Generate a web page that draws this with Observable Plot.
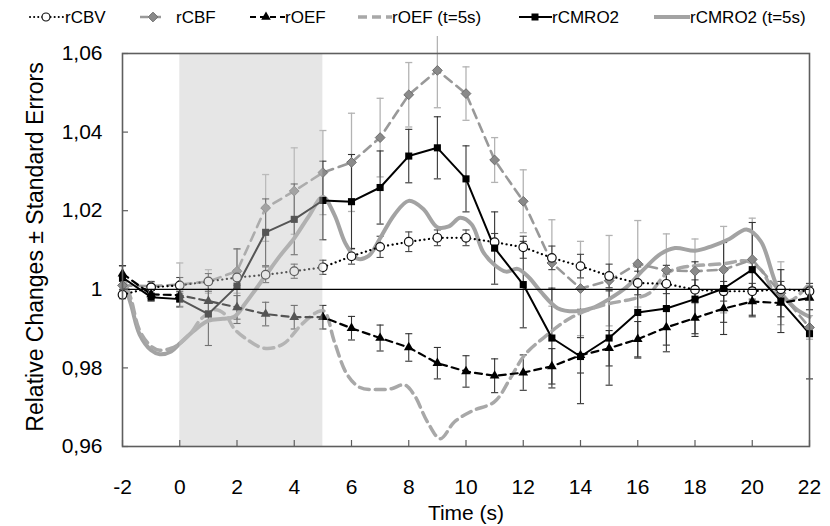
<!DOCTYPE html>
<html><head><meta charset="utf-8">
<script src="https://cdn.jsdelivr.net/npm/d3@7"></script>
<script src="https://cdn.jsdelivr.net/npm/@observablehq/plot@0.6"></script>
<style>
body{margin:0;background:#fff;font-family:"Liberation Sans",Arial,Helvetica,sans-serif;}
#legend{height:36px;}
#legend svg, #chart svg{display:block;}
</style></head><body>
<div id="legend"></div>
<div id="chart"></div>
<script>
// ---------- data ----------
const times = [-2,-1,0,1,2,3,4,5,6,7,8,9,10,11,12,13,14,15,16,17,18,19,20,21,22];
const xTicks = [-2,0,2,4,6,8,10,12,14,16,18,20,22];
const yTicks = [0.96,0.98,1,1.02,1.04,1.06];
const stimulus = [0, 5];

const rCBV    = [0.9986,1.0005,1.001,1.002,1.003,1.0037,1.0046,1.0056,1.0084,1.0108,1.0121,1.0131,1.0131,1.012,1.0107,1.008,1.0059,1.0034,1.0016,1.0014,0.9999,0.9995,0.9995,1.0,0.9995];
const rCBV_se = [0.001,0.0015,0.002,0.002,0.002,0.002,0.0018,0.0018,0.002,0.0027,0.0025,0.002,0.002,0.0022,0.0028,0.003,0.003,0.003,0.003,0.0025,0.0025,0.0025,0.002,0.002,0.002];

const rCBF    = [1.001,1.0008,1.0012,1.002,1.0046,1.0207,1.025,1.0297,1.0323,1.0386,1.0495,1.0557,1.0498,1.0329,1.0224,1.0067,1.0002,1.0022,1.0065,1.0048,1.0046,1.005,1.0076,0.999,0.9903];
const rCBF_se = [0.002,0.001,0.0055,0.003,0.0056,0.0085,0.011,0.0107,0.0125,0.010,0.0082,0.0095,0.0068,0.0057,0.008,0.011,0.012,0.0115,0.011,0.0093,0.0082,0.011,0.0105,0.008,0.003];

const rOEF    = [1.004,0.9987,0.9985,0.997,0.9954,0.9937,0.9929,0.9929,0.9901,0.9876,0.9852,0.9812,0.9791,0.978,0.9788,0.9804,0.9832,0.985,0.9873,0.9903,0.9927,0.9951,0.9969,0.9965,0.9978];
const rOEF_se = [0.002,0.001,0.0015,0.0025,0.003,0.003,0.003,0.003,0.003,0.0033,0.0035,0.004,0.004,0.0043,0.0045,0.0045,0.0045,0.0045,0.0045,0.0045,0.004,0.0035,0.0035,0.0035,0.003];

const rCMRO2    = [1.003,0.998,0.9975,0.9937,1.0008,1.0145,1.0178,1.0226,1.0223,1.0259,1.0339,1.036,1.0281,1.0105,1.0012,0.9876,0.9829,0.9876,0.9941,0.9951,0.9975,1.0002,1.005,0.997,0.9887];
const rCMRO2_se = [0.003,0.001,0.002,0.008,0.0095,0.0085,0.009,0.01,0.012,0.0093,0.0068,0.0079,0.0084,0.0092,0.011,0.0127,0.012,0.012,0.0116,0.011,0.0095,0.0117,0.012,0.008,0.0115];

const oef5Times  = [-2,-1.7,-1.4,-1.0,-0.7,-0.3,0,0.4,0.75,1.25,1.6,1.9,2.3,2.95,3.6,4.25,4.8,5.05,5.4,5.85,6.3,6.9,7.4,7.85,8.2,8.65,9.1,9.6,10.2,11.0,11.55,12.05,12.7,13.65,14.8,15.8,16.4,17.0,17.5,18.0,19.0,19.8,20.3,20.8,21.3,22];
const rOEF5      = [1.004,0.9975,0.9895,0.9855,0.9845,0.985,0.9862,0.989,0.9925,0.9948,0.9935,0.990,0.9875,0.985,0.986,0.991,0.9942,0.9944,0.9867,0.9783,0.975,0.9745,0.9747,0.9757,0.973,0.9663,0.962,0.9663,0.969,0.9714,0.9774,0.9833,0.9876,0.9927,0.996,0.9975,0.999,1.004,1.0055,1.006,1.0065,1.0072,1.005,0.999,0.997,1.0015];

const cmro5Times = [-2,-1.7,-1.4,-1.0,-0.7,-0.3,0,0.5,1.0,1.5,1.9,2.3,3.0,3.5,4.0,4.5,5.0,5.4,5.8,6.2,6.6,7.0,7.5,8.0,8.5,9.0,9.4,9.8,10.2,10.6,11.0,11.4,11.8,12.2,12.6,13.2,13.8,14.4,15.0,15.6,16.2,16.8,17.3,18.0,18.6,19.2,19.8,20.3,20.9,21.5,22];
const rCMRO25    = [1.003,0.996,0.9885,0.9845,0.9835,0.9842,0.9862,0.9895,0.992,0.9925,0.993,0.9965,1.0035,1.0085,1.013,1.0185,1.0235,1.019,1.0115,1.0078,1.0085,1.013,1.019,1.0225,1.0205,1.0158,1.016,1.0182,1.0165,1.0095,1.0062,1.0045,1.0052,1.003,0.9995,0.9952,0.9944,0.9952,0.9975,1.0005,1.005,1.009,1.0105,1.0098,1.011,1.0128,1.0152,1.0122,1.0003,0.9952,0.993];

const seriesLabels = ["rCBV","rCBF","rOEF","rOEF (t=5s)","rCMRO2","rCMRO2 (t=5s)"];
const yLabel = "Relative Changes ± Standard Errors";
const xLabel = "Time (s)";

// ---------- tables ----------
const pts = (vals, se) => times.map((t,i) => ({t, v: vals[i], lo: vals[i]-se[i], hi: vals[i]+se[i]}));
const dCBV = pts(rCBV, rCBV_se), dCBF = pts(rCBF, rCBF_se), dOEF = pts(rOEF, rOEF_se), dCMRO = pts(rCMRO2, rCMRO2_se);
const dOEF5 = oef5Times.map((t,i) => ({t, v: rOEF5[i]}));
const dCMRO5 = cmro5Times.map((t,i) => ({t, v: rCMRO25[i]}));

const capSym = {draw(ctx, size){ const w = Math.sqrt(size)/2; ctx.moveTo(-w,0); ctx.lineTo(w,0); }};
const errMarks = (d, color, sw) => [
  Plot.ruleX(d, {x: "t", y1: "lo", y2: "hi", stroke: color, strokeWidth: sw}),
  Plot.dot(d, {x: "t", y: "lo", symbol: capSym, r: 4, stroke: color, strokeWidth: sw, fill: "none"}),
  Plot.dot(d, {x: "t", y: "hi", symbol: capSym, r: 4, stroke: color, strokeWidth: sw, fill: "none"})
];

const FONT = "Liberation Sans, Arial, Helvetica, sans-serif";
const fmt = d => d === 1 ? "1" : d.toFixed(2).replace(".", ",");

const chart = Plot.plot({
  width: 830, height: 490,
  marginLeft: 122, marginRight: 21, marginTop: 17, marginBottom: 80,
  style: {fontFamily: FONT, fontSize: "21px", background: "white", color: "black"},
  x: {domain: [-2, 22], axis: null},
  y: {domain: [0.96, 1.06], axis: null},
  marks: [
    ...errMarks(dCBF, "#b3b3b3", 1.3),
    ...errMarks(dCBV, "#444", 1.1),
    ...errMarks(dOEF, "#333", 1.1),
    ...errMarks(dCMRO, "#333", 1.1),
    Plot.line(dCMRO5, {x: "t", y: "v", curve: "catmull-rom", stroke: "#a3a3a3", strokeWidth: 4}),
    Plot.line(dOEF5, {x: "t", y: "v", curve: "catmull-rom", stroke: "#a8a8a8", strokeWidth: 3.5, strokeDasharray: "10,6"}),
    Plot.line(dCBF, {x: "t", y: "v", stroke: "#999", strokeWidth: 2.6, strokeDasharray: "9,6"}),
    Plot.line(dCBV, {x: "t", y: "v", stroke: "#000", strokeWidth: 2.2, strokeDasharray: "0.1,4.5", strokeLinecap: "round"}),
    Plot.line(dOEF, {x: "t", y: "v", stroke: "#000", strokeWidth: 2.2, strokeDasharray: "7,5"}),
    Plot.line(dCMRO, {x: "t", y: "v", stroke: "#000", strokeWidth: 2}),
    Plot.dot(dCBF, {x: "t", y: "v", symbol: "diamond2", r: 4.4, fill: "#8a8a8a", stroke: "#6e6e6e", strokeWidth: 1}),
    Plot.dot(dCBV, {x: "t", y: "v", symbol: "circle", r: 4.3, fill: "white", stroke: "#111", strokeWidth: 1.2}),
    Plot.dot(dOEF, {x: "t", y: "v", symbol: "triangle", r: 3.6, fill: "#000"}),
    Plot.dot(dCMRO, {x: "t", y: "v", symbol: "square", r: 4, fill: "#000"}),
    Plot.rect([stimulus], {x1: d => d[0], x2: d => d[1], fill: "#c5c5c5", fillOpacity: 0.43}),
    Plot.ruleY([1], {stroke: "#000", strokeWidth: 1.3}),
    Plot.frame({stroke: "#5e5e5e", strokeWidth: 1.6}),
    Plot.axisY({ticks: yTicks, tickSize: 6, dx: 6, fill: "none", stroke: "#5e5e5e", strokeWidth: 1.2}),
    Plot.axisX({ticks: xTicks, tickSize: 6, dy: -6, fill: "none", stroke: "#5e5e5e", strokeWidth: 1.2}),
    Plot.axisY({ticks: yTicks, tickSize: 0, tickPadding: 20, tickFormat: fmt, label: null, fontSize: 21}),
    Plot.axisX({ticks: xTicks, tickSize: 0, tickPadding: 33, tickFormat: d => String(d), label: null, fontSize: 21}),
    Plot.text([yLabel], {frameAnchor: "left", text: d => d, rotate: -90, dx: -87, dy: -3, textAnchor: "middle", lineAnchor: "middle", fontSize: 23}),
    Plot.text([xLabel], {frameAnchor: "bottom", text: d => d, dy: 67, textAnchor: "middle", lineAnchor: "middle", fontSize: 21})
  ]
});
document.getElementById("chart").appendChild(chart);

// ---------- legend ----------
const legendItems = [
  {x0: 30, x1: 63, tx: 65, stroke: "#000", dash: "0.1,4", w: 2, cap: "round", marker: "circle", mx: 46},
  {x0: 140, x1: 166, tx: 176, stroke: "#999", dash: "8,5", w: 2.6, cap: "butt", marker: "diamond", mx: 153},
  {x0: 250, x1: 285, tx: 285, stroke: "#000", dash: "6,4", w: 2.2, cap: "butt", marker: "triangle", mx: 266},
  {x0: 358, x1: 392, tx: 392, stroke: "#a8a8a8", dash: "9,5", w: 3.5, cap: "butt", marker: null},
  {x0: 519, x1: 552, tx: 552, stroke: "#000", dash: null, w: 2.2, cap: "butt", marker: "square", mx: 535},
  {x0: 654, x1: 690, tx: 690, stroke: "#a3a3a3", dash: null, w: 4, cap: "butt", marker: null}
];
const lsvg = d3.select("#legend").append("svg").attr("width", 830).attr("height", 36)
  .style("font-family", FONT).style("font-size", "17px");
const ly = 17;
legendItems.forEach((it, i) => {
  const g = lsvg.append("g");
  const ln = g.append("line").attr("x1", it.x0).attr("x2", it.x1).attr("y1", ly).attr("y2", ly)
    .attr("stroke", it.stroke).attr("stroke-width", it.w).attr("stroke-linecap", it.cap);
  if (it.dash) ln.attr("stroke-dasharray", it.dash);
  if (it.marker === "circle") g.append("circle").attr("cx", it.mx).attr("cy", ly).attr("r", 4).attr("fill", "white").attr("stroke", "#111").attr("stroke-width", 1.2);
  if (it.marker === "diamond") g.append("path").attr("d", d3.symbol(d3.symbolDiamond2, 60)()).attr("transform", `translate(${it.mx},${ly})`).attr("fill", "#8a8a8a").attr("stroke", "#6e6e6e");
  if (it.marker === "triangle") g.append("path").attr("d", d3.symbol(d3.symbolTriangle, 40)()).attr("transform", `translate(${it.mx},${ly})`).attr("fill", "#000");
  if (it.marker === "square") g.append("rect").attr("x", it.mx - 3.5).attr("y", ly - 3.5).attr("width", 7).attr("height", 7).attr("fill", "#000");
  g.append("text").attr("x", it.tx).attr("y", ly).attr("dy", "0.35em").text(seriesLabels[i]);
});
</script></body></html>
